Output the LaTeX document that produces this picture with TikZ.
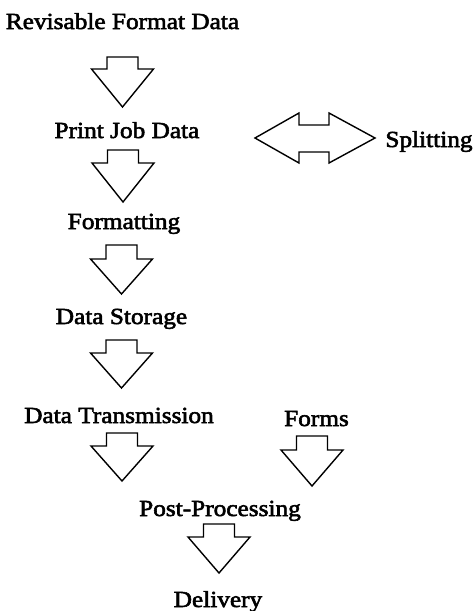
\documentclass[tikz,border=0pt]{standalone}
\usepackage{fontspec}
\setmainfont[FakeStretch=1.1,FakeBold=2.5]{Liberation Serif}
% block arrow pointing down: #1 centre x, #2 top y, #3 head base y, #4 tip y
\newcommand\blockdown[4]{%
  \draw[blk] (#1-15.5,#2) -- (#1+15.5,#2) -- (#1+15.5,#3) -- (#1+31,#3)
    -- (#1,#4) -- (#1-31,#3) -- (#1-15.5,#3) -- cycle;}
\begin{document}
\begin{tikzpicture}[x=1pt,y=-1pt,
  lbl/.style={inner sep=0pt, anchor=base, font=\fontsize{23}{28}\selectfont},
  blk/.style={draw=black, line width=1.4pt, fill=white, line join=miter}]
\useasboundingbox (0,0) rectangle (473,611);
\node[lbl] (rfd)   at (122.5,29)  {Revisable Format Data};
\node[lbl] (pjd)   at (127,138)   {Print Job Data};
\node[lbl] (split) at (429,147)   {Splitting};
\node[lbl] (fmt)   at (124,229)   {Formatting};
\node[lbl] (stor)  at (121.5,324) {Data Storage};
\node[lbl] (trans) at (119,423)   {Data Transmission};
\node[lbl] (forms) at (316.5,426) {Forms};
\node[lbl] (post)  at (220,516)   {Post-Processing};
\node[lbl] (deliv) at (218,607)   {Delivery};
\blockdown{122.5}{57}{69}{107}
\blockdown{123}{150}{163}{202}
\blockdown{121.5}{245}{259}{294}
\blockdown{121.5}{340}{353}{388}
\blockdown{122}{433}{446}{481}
\blockdown{312}{436}{450}{486}
\blockdown{219}{524}{537}{573}
\draw[blk] (255,138) -- (299,113) -- (299,125) -- (329,125) -- (329,113)
  -- (375,138) -- (329,163) -- (329,152) -- (299,152) -- (299,163) -- cycle;
\end{tikzpicture}
\end{document}
